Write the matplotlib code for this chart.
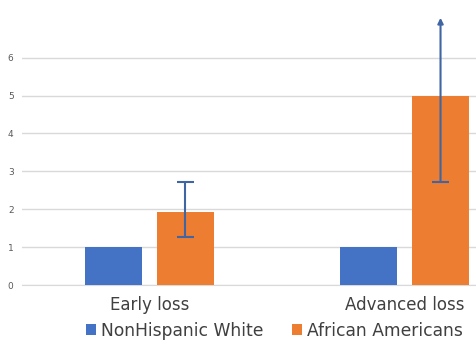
import numpy as np
import matplotlib.pyplot as plt

categories = ["Early loss", "Advanced loss"]
series = ["NonHispanic White", "African Americans"]
white = [1.0, 1.0]
african = [1.93, 5.0]
err_low = [1.27, 2.72]
err_high = [2.72, 7.05]
yticks = [0, 1, 2, 3, 4, 5, 6]

blue = "#4472c4"
orange = "#ed7d31"
err_col = "#3f65a3"

fig = plt.figure(figsize=(4.77, 3.48), dpi=100)
ax = fig.add_axes([0.046, 0.181, 0.954, 0.819])

x = np.arange(len(categories))
w = 0.2235
off = 0.141
b1 = ax.bar(x - off, white, w, color=blue, zorder=3, label=series[0])
b2 = ax.bar(x + off, african, w, color=orange, zorder=3, label=series[1])

# error bars; the advanced-loss one runs off the top as an arrow
xe = x + off
cap = 0.032
ax.vlines(xe[0], err_low[0], err_high[0], color=err_col, lw=1.5, zorder=4)
for yv in (err_low[0], err_high[0]):
    ax.hlines(yv, xe[0] - cap, xe[0] + cap, color=err_col, lw=1.5, zorder=4)
ax.hlines(err_low[1], xe[1] - cap, xe[1] + cap, color=err_col, lw=1.5, zorder=4)
ax.annotate("", xy=(xe[1], err_high[1]), xytext=(xe[1], err_low[1]),
            arrowprops=dict(arrowstyle="-|>", color=err_col, lw=1.5,
                            mutation_scale=8, shrinkA=0, shrinkB=0), zorder=4)

ax.set_xlim(-0.5, 1.284)
ax.set_ylim(0, 7.52)
ax.set_yticks(yticks)
ax.set_yticklabels([str(t) for t in yticks], fontsize=6.5, color="#595959")
ax.yaxis.grid(True, color="#d9d9d9", lw=1, zorder=0)
ax.tick_params(axis="y", length=0, pad=6)
ax.set_xticks(x)
ax.set_xticklabels(categories, fontsize=12, color="#404040")
ax.tick_params(axis="x", length=0, pad=8)
for s in ["top", "right", "left"]:
    ax.spines[s].set_visible(False)
ax.spines["bottom"].set_color("#d9d9d9")

fig.legend(handles=[b1, b2], loc="lower left", bbox_to_anchor=(0.148, -0.02),
           ncol=2, frameon=False, fontsize=12.3, handlelength=0.6, handleheight=0.6,
           handletextpad=0.3, columnspacing=1.65, labelcolor="#404040")

fig.savefig("out.png", dpi=100)
